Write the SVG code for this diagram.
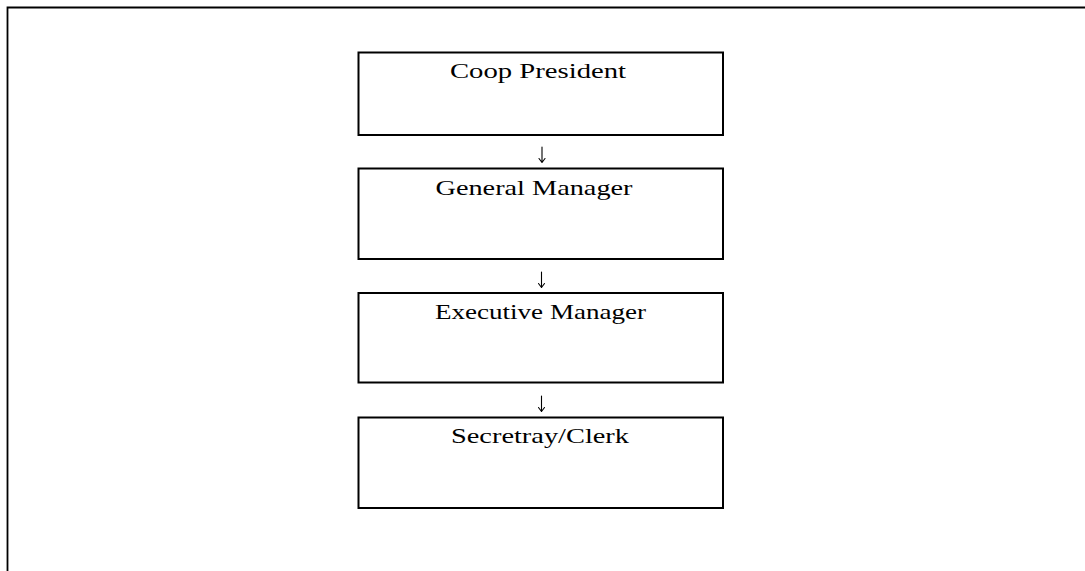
<svg xmlns="http://www.w3.org/2000/svg" width="1085" height="571" viewBox="0 0 1085 571">
  <style>
    .frame { fill: none; stroke: #000; stroke-width: 1.8; }
    .box { fill: #fff; stroke: #000; stroke-width: 2; }
    .label { font-family: "Liberation Serif", "DejaVu Serif", serif; font-size: 21.5px; fill: #000; text-anchor: middle; }
    .arrow { fill: none; stroke: #000; stroke-width: 1.1; stroke-linecap: round; stroke-linejoin: round; }
  </style>
  <rect width="1085" height="571" fill="#fff"/>

  <!-- page frame: top and left edges -->
  <path class="frame" d="M7.5,580 V7.5 H1095"/>

  <g id="node-president">
    <rect class="box" x="358.5" y="52.5" width="364.5" height="82.5"/>
    <text class="label" x="538" y="78" textLength="176" lengthAdjust="spacingAndGlyphs">Coop President</text>
  </g>

  <g id="node-general-manager">
    <rect class="box" x="358.5" y="168.5" width="364.5" height="90.5"/>
    <text class="label" x="534" y="194.5" textLength="197" lengthAdjust="spacingAndGlyphs">General Manager</text>
  </g>

  <g id="node-executive-manager">
    <rect class="box" x="358.5" y="293" width="364.5" height="89.5"/>
    <text class="label" x="540.5" y="318.5" textLength="211" lengthAdjust="spacingAndGlyphs">Executive Manager</text>
  </g>

  <g id="node-secretary-clerk">
    <rect class="box" x="358.5" y="417.5" width="364.5" height="90.5"/>
    <text class="label" x="540" y="443" textLength="178" lengthAdjust="spacingAndGlyphs">Secretray/Clerk</text>
  </g>

  <g id="connectors">
    <path class="arrow" d="M542,147 V162.5 M539,158.5 L542,162.5 L545,158.5"/>
    <path class="arrow" d="M541.5,272 V287.5 M538.5,283.5 L541.5,287.5 L544.5,283.5"/>
    <path class="arrow" d="M541.5,396 V411.5 M538.5,407.5 L541.5,411.5 L544.5,407.5"/>
  </g>
</svg>
